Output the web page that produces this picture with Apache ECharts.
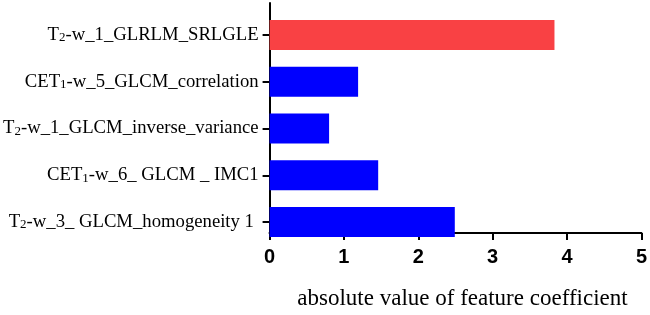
<!DOCTYPE html>
<html>
<head>
<meta charset="utf-8">
<script src="https://cdn.jsdelivr.net/npm/echarts@6/dist/echarts.min.js"></script>
<style>
  html, body { margin: 0; padding: 0; background: #fff; }
  #main { width: 650px; height: 315px; }
</style>
</head>
<body>
<div id="main"></div>
<script>
// features, top to bottom as in the figure
const features = [
  'T₂-w_1_GLRLM_SRLGLE',
  'CET₁-w_5_GLCM_correlation',
  'T₂-w_1_GLCM_inverse_variance',
  'CET₁-w_6_ GLCM _ IMC1',
  'T₂-w_3_ GLCM_homogeneity 1 '
];
const coefValues = [3.83, 1.19, 0.80, 1.46, 2.49];
const xTicks = [0, 1, 2, 3, 4, 5];

const RED = '#f94144';
const BLUE = '#0000ff';
const maxVal = Math.max(...coefValues);

// split subscript digits into rich tokens
function toRich(s) {
  let out = '';
  for (const ch of s) {
    if (ch === '₁') out += '{s|1}';
    else if (ch === '₂') out += '{s|2}';
    else out += '{n|' + ch + '}';
  }
  return out;
}

const chart = echarts.init(document.getElementById('main'));

const option = {
  animation: false,
  grid: [
    // frame grid: axis lines + x labels
    { left: 269.5, right: 8.5, top: 3, bottom: 64 },
    // bar grid: category bands
    { left: 269.5, right: 8.5, top: 11.6, bottom: 69.6 }
  ],
  xAxis: [{
    gridIndex: 0,
    type: 'value',
    min: xTicks[0],
    max: xTicks[xTicks.length - 1],
    interval: 1,
    splitLine: { show: false },
    axisLine: { show: true, lineStyle: { color: '#000', width: 2 } },
    axisTick: { show: true, length: 7, lineStyle: { color: '#000', width: 2 } },
    axisLabel: {
      margin: 14,
      color: '#000',
      fontFamily: 'Liberation Sans, Arial, sans-serif',
      fontWeight: 'bold',
      fontSize: 20
    },
    name: 'absolute value of feature coefficient',
    nameLocation: 'middle',
    nameGap: 54,
    nameTextStyle: {
      color: '#000',
      fontFamily: 'Liberation Serif, Times New Roman, serif',
      fontSize: 23,
      padding: [0, 0, 0, 14]
    }
  }, {
    gridIndex: 1,
    type: 'value',
    min: xTicks[0],
    max: xTicks[xTicks.length - 1],
    show: false
  }],
  yAxis: [{
    gridIndex: 0,
    type: 'value',
    min: 0,
    max: 1,
    axisLine: { show: true, onZero: false, lineStyle: { color: '#000', width: 2 } },
    axisTick: { show: false },
    axisLabel: { show: false },
    splitLine: { show: false }
  }, {
    gridIndex: 1,
    type: 'category',
    inverse: true,
    data: features,
    axisLine: { show: false },
    axisTick: { show: true, alignWithLabel: true, length: 7, lineStyle: { color: '#000', width: 2 } },
    axisLabel: {
      margin: 11,
      formatter: toRich,
      rich: {
        n: { fontFamily: 'Liberation Serif, Times New Roman, serif', fontSize: 18.7, color: '#000' },
        s: { fontFamily: 'Liberation Serif, Times New Roman, serif', fontSize: 13, color: '#000', verticalAlign: 'bottom' }
      }
    }
  }],
  series: [{
    type: 'bar',
    xAxisIndex: 1,
    yAxisIndex: 1,
    data: coefValues,
    barWidth: 30,
    itemStyle: {
      color: p => (p.value === maxVal ? RED : BLUE)
    }
  }]
};

chart.setOption(option);
</script>
</body>
</html>
